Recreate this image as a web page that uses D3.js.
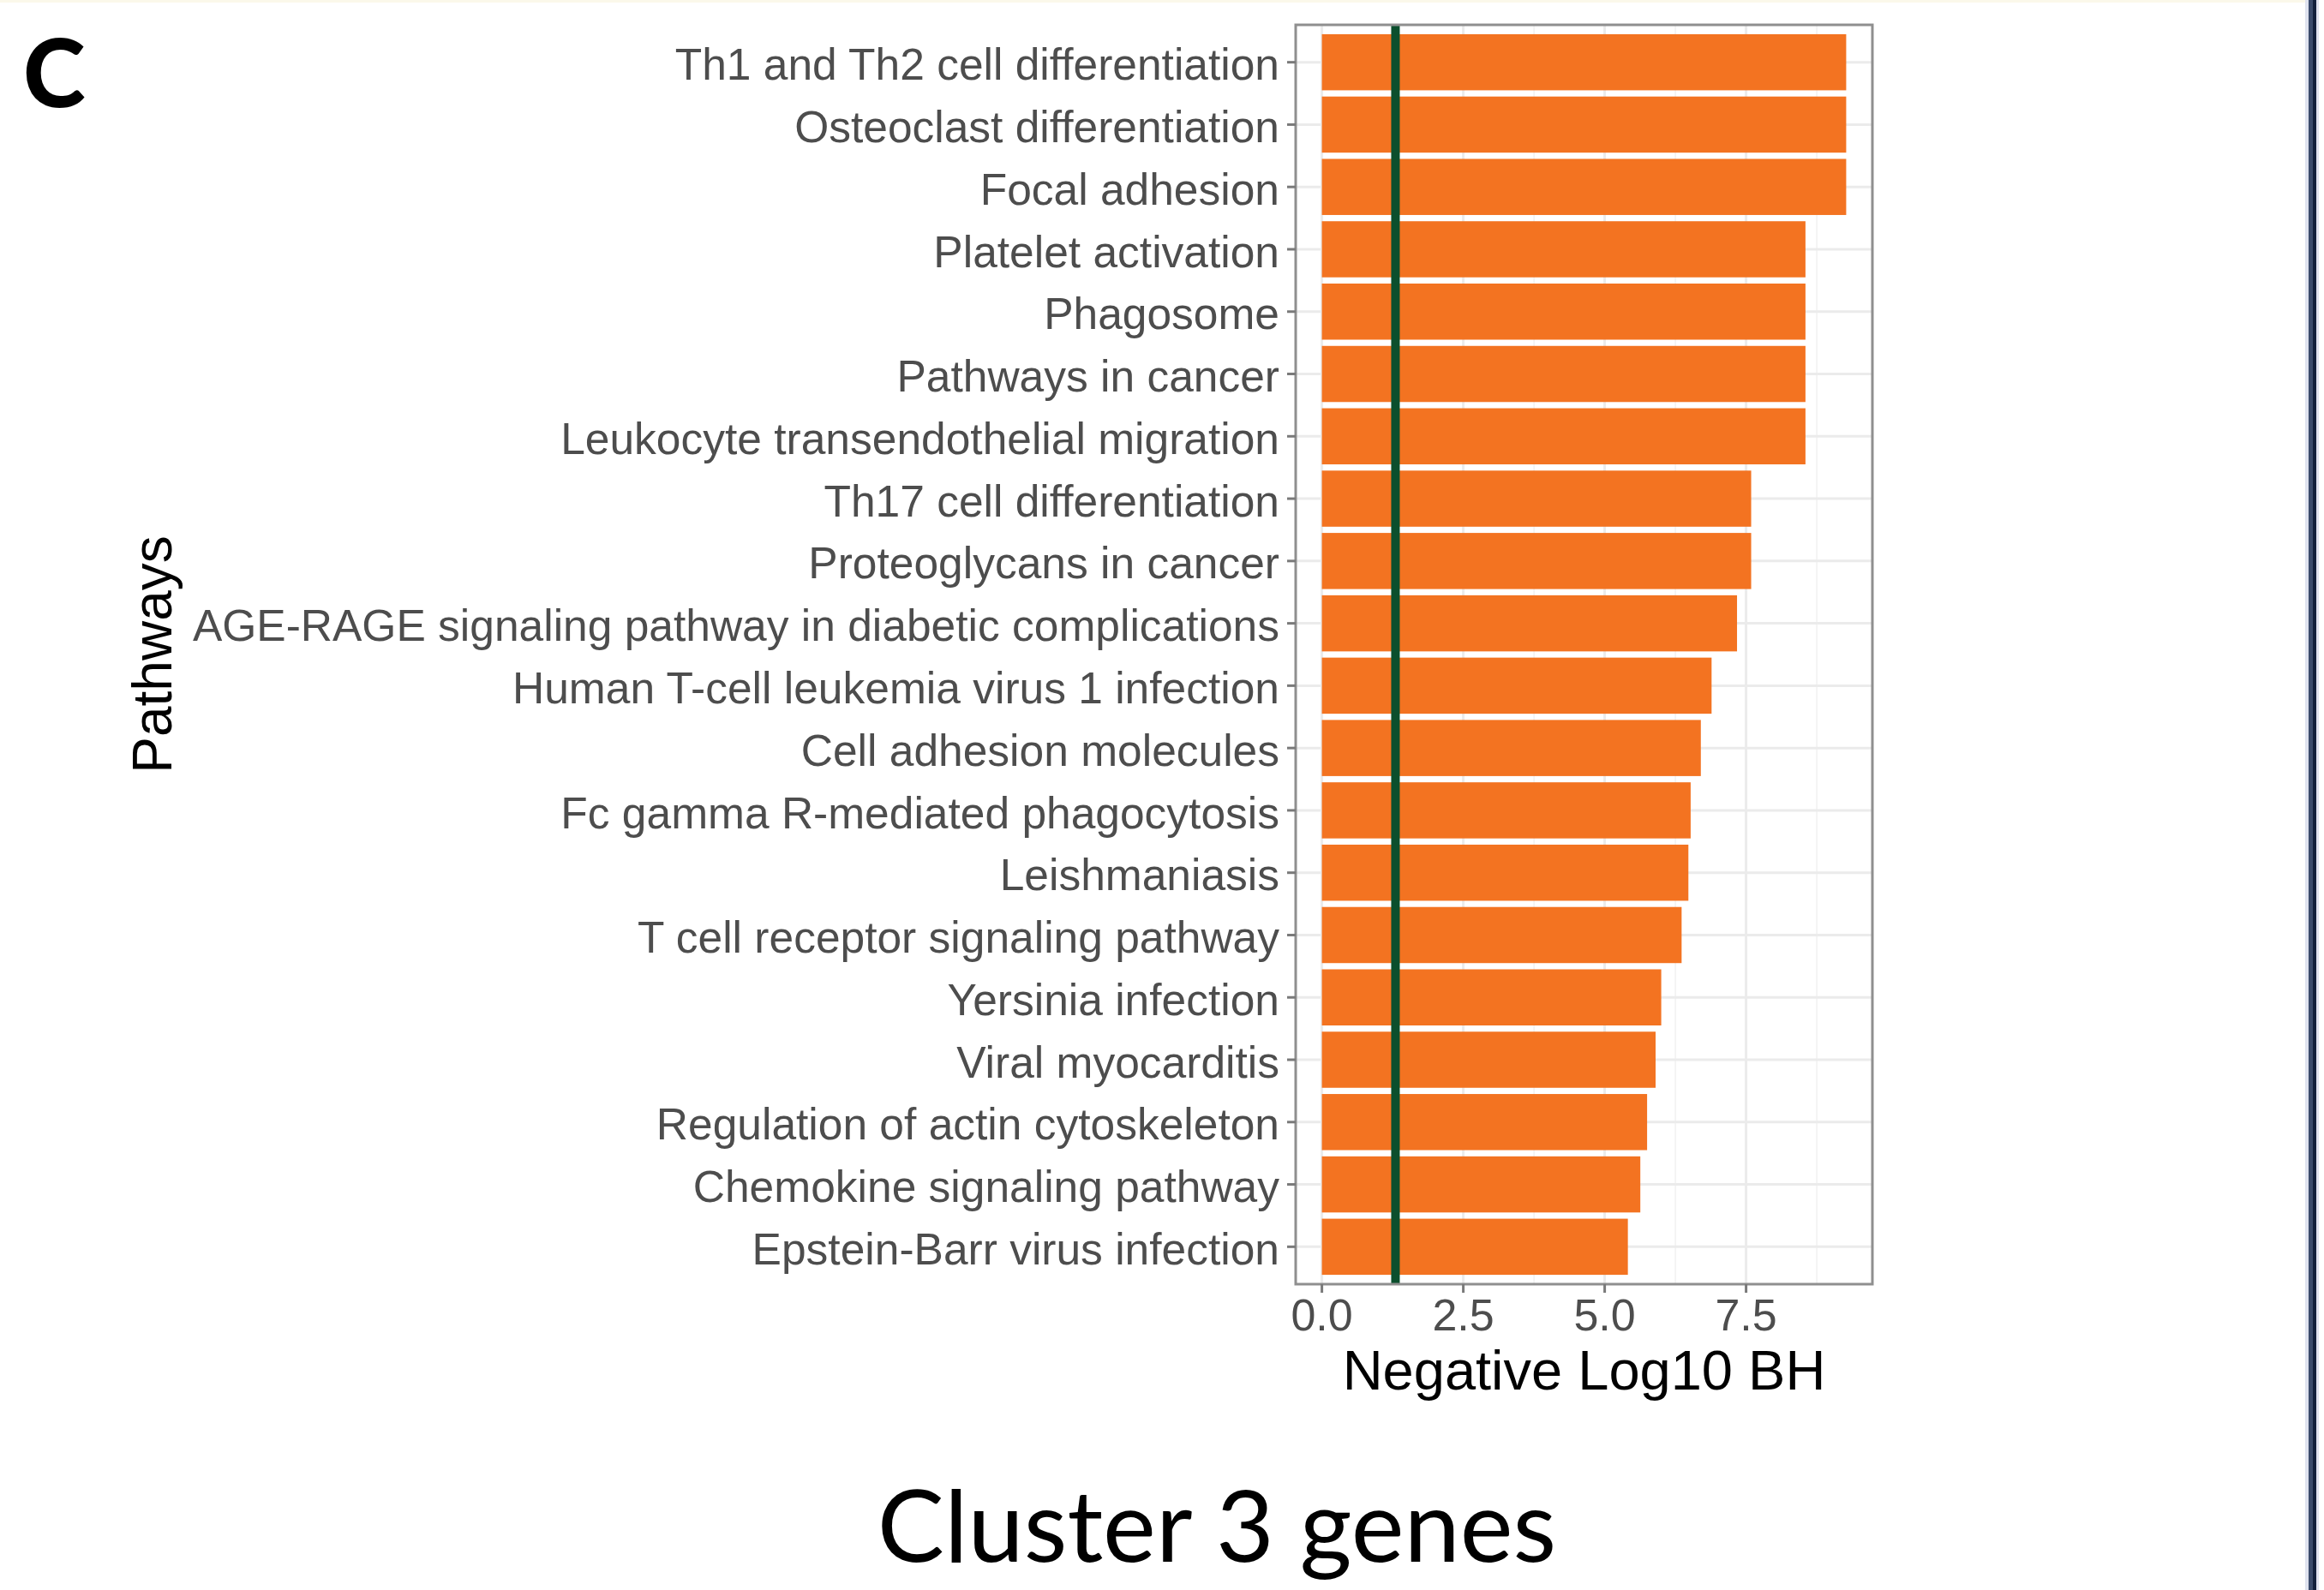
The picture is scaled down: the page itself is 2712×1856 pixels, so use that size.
<!DOCTYPE html>
<html>
<head>
<meta charset="utf-8">
<script src="https://cdn.jsdelivr.net/npm/d3@7"></script>
<style>
  html, body { margin: 0; padding: 0; background: #fff; }
  svg { display: block; }
</style>
</head>
<body>
<svg id="chart" width="2712" height="1856"></svg>
<script>
// pathways, top to bottom as drawn
var pathways = [
  "Th1 and Th2 cell differentiation",
  "Osteoclast differentiation",
  "Focal adhesion",
  "Platelet activation",
  "Phagosome",
  "Pathways in cancer",
  "Leukocyte transendothelial migration",
  "Th17 cell differentiation",
  "Proteoglycans in cancer",
  "AGE-RAGE signaling pathway in diabetic complications",
  "Human T-cell leukemia virus 1 infection",
  "Cell adhesion molecules",
  "Fc gamma R-mediated phagocytosis",
  "Leishmaniasis",
  "T cell receptor signaling pathway",
  "Yersinia infection",
  "Viral myocarditis",
  "Regulation of actin cytoskeleton",
  "Chemokine signaling pathway",
  "Epstein-Barr virus infection"
];
var negLog10BH = [9.27, 9.27, 9.27, 8.55, 8.55, 8.55, 8.55, 7.59, 7.59, 7.34,
                  6.89, 6.70, 6.52, 6.48, 6.36, 6.00, 5.90, 5.75, 5.63, 5.41];
var majorTicks = [0, 2.5, 5, 7.5];
var minorTicks = [1.25, 3.75, 6.25, 8.75];
var threshold = [-Math.log10(0.05)];

var svg, panel, x, y, maxVal, pad, rowMid;
// panel box (named plot* since window.top is read-only)
var plotLeft = 1512, plotRight = 2185, plotTop = 29, plotBottom = 1499;
var axisFont = "'Liberation Sans', Arial, sans-serif";
var axisGrey = "#4d4d4d";

svg = d3.select("#chart");
svg.append("rect").attr("width", 2712).attr("height", 1856).attr("fill", "#fff");
svg.append("rect").attr("x", 0).attr("y", 0).attr("width", 2690).attr("height", 3).attr("fill", "#fbf8ea");

// ggplot style expansion: 5% of data range on both ends
maxVal = d3.max(negLog10BH);
pad = maxVal * 0.05;
x = d3.scaleLinear().domain([-pad, maxVal + pad]).range([plotLeft, plotRight]);
y = d3.scaleBand().domain(pathways).range([plotTop, plotBottom]).paddingInner(0.1).paddingOuter(0.15);
rowMid = function(d) { return y(d) + y.bandwidth() / 2; };

panel = svg.append("g");

// minor + major grid
panel.selectAll("line.minor").data(minorTicks).enter().append("line")
  .attr("x1", function(d) { return x(d); }).attr("x2", function(d) { return x(d); })
  .attr("y1", plotTop).attr("y2", plotBottom)
  .attr("stroke", "#f2f2f2").attr("stroke-width", 1.6);
panel.selectAll("line.majorx").data(majorTicks).enter().append("line")
  .attr("x1", function(d) { return x(d); }).attr("x2", function(d) { return x(d); })
  .attr("y1", plotTop).attr("y2", plotBottom)
  .attr("stroke", "#ebebeb").attr("stroke-width", 3);
panel.selectAll("line.majory").data(pathways).enter().append("line")
  .attr("x1", plotLeft).attr("x2", plotRight)
  .attr("y1", rowMid).attr("y2", rowMid)
  .attr("stroke", "#ebebeb").attr("stroke-width", 3);

// bars
panel.selectAll("rect.bar").data(pathways).enter().append("rect")
  .attr("x", x(0))
  .attr("y", function(d) { return y(d); })
  .attr("width", function(d, i) { return x(negLog10BH[i]) - x(0); })
  .attr("height", y.bandwidth())
  .attr("fill", "#f37321");

// significance line
panel.selectAll("line.cut").data(threshold).enter().append("line")
  .attr("x1", function(d) { return x(d); }).attr("x2", function(d) { return x(d); })
  .attr("y1", plotTop).attr("y2", plotBottom)
  .attr("stroke", "#0b4f2d").attr("stroke-width", 10);

// panel border
panel.append("rect")
  .attr("x", plotLeft).attr("y", plotTop)
  .attr("width", plotRight - plotLeft).attr("height", plotBottom - plotTop)
  .attr("fill", "none").attr("stroke", "#8f8f8f").attr("stroke-width", 3);

// y axis ticks and labels
panel.selectAll("line.ytick").data(pathways).enter().append("line")
  .attr("x1", plotLeft - 10).attr("x2", plotLeft)
  .attr("y1", rowMid).attr("y2", rowMid)
  .attr("stroke", "#7a7a7a").attr("stroke-width", 3);
panel.selectAll("text.ylab").data(pathways).enter().append("text")
  .attr("x", plotLeft - 19)
  .attr("y", rowMid)
  .attr("dy", "0.4em")
  .attr("text-anchor", "end")
  .attr("font-family", axisFont).attr("font-size", 51.5)
  .attr("fill", axisGrey)
  .text(function(d) { return d; });

// x axis ticks and labels
panel.selectAll("line.xtick").data(majorTicks).enter().append("line")
  .attr("x1", function(d) { return x(d); }).attr("x2", function(d) { return x(d); })
  .attr("y1", plotBottom).attr("y2", plotBottom + 10)
  .attr("stroke", "#7a7a7a").attr("stroke-width", 3);
panel.selectAll("text.xlab").data(majorTicks).enter().append("text")
  .attr("x", function(d) { return x(d); })
  .attr("y", 1553)
  .attr("text-anchor", "middle")
  .attr("font-family", axisFont).attr("font-size", 52)
  .attr("fill", axisGrey)
  .text(function(d) { return d3.format(".1f")(d); });

// axis titles
svg.append("text")
  .attr("x", (plotLeft + plotRight) / 2).attr("y", 1622)
  .attr("text-anchor", "middle")
  .attr("font-family", axisFont).attr("font-size", 65)
  .attr("fill", "#000")
  .text("Negative Log10 BH");
svg.append("text")
  .attr("transform", "translate(200," + ((plotTop + plotBottom) / 2) + ") rotate(-90)")
  .attr("text-anchor", "middle")
  .attr("font-family", axisFont).attr("font-size", 64)
  .attr("fill", "#000")
  .text("Pathways");

// slide decorations
svg.append("text")
  .attr("x", 27).attr("y", 125)
  .attr("font-family", "Lato, 'Open Sans', sans-serif").attr("font-weight", 900).attr("font-size", 110)
  .attr("fill", "#000")
  .text("C");
svg.append("text")
  .attr("x", 1420).attr("y", 1823)
  .attr("text-anchor", "middle")
  .attr("font-family", "Lato, 'Open Sans', sans-serif").attr("font-size", 117)
  .attr("fill", "#000")
  .text("Cluster 3 genes");

svg.append("rect").attr("x", 2690).attr("y", 0).attr("width", 16).attr("height", 1856).attr("fill", "#dfe2ef");
svg.append("rect").attr("x", 2694).attr("y", 0).attr("width", 5).attr("height", 1856).attr("fill", "#3b4b6b");
svg.append("rect").attr("x", 2699).attr("y", 0).attr("width", 4).attr("height", 1856).attr("fill", "#13203c");
</script>
</body>
</html>
